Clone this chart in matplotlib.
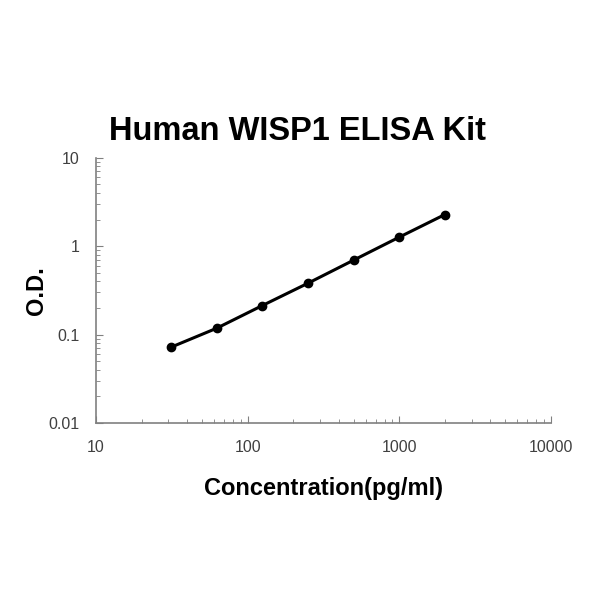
import matplotlib
matplotlib.use("Agg")
from matplotlib import pyplot as plt
from matplotlib.ticker import LogLocator, FixedLocator, NullFormatter

plt.rcParams['font.family'] = ['Liberation Sans', 'DejaVu Sans']

concentration = [31.25, 62.5, 125, 250, 500, 1000, 2000]
od = [0.072, 0.118, 0.213, 0.381, 0.695, 1.265, 2.28]

x_ticks = [10, 100, 1000, 10000]
x_labels = ["10", "100", "1000", "10000"]
y_ticks = [0.01, 0.1, 1, 10]
y_labels = ["0.01", "0.1", "1", "10"]

fig = plt.figure(figsize=(6, 6), dpi=100)
ax = fig.add_axes([0.16, 0.295, 0.758, 0.442])

ax.plot(concentration, od, color="black", linewidth=2.2, marker="o", markersize=6)

ax.set_xscale("log")
ax.set_yscale("log")
ax.set_xlim(10, 10000)
ax.set_ylim(0.01, 10)

ax.xaxis.set_major_locator(FixedLocator(x_ticks))
ax.yaxis.set_major_locator(FixedLocator(y_ticks))
ax.set_xticklabels(x_labels)
ax.set_yticklabels(y_labels)
ax.xaxis.set_minor_locator(LogLocator(base=10, subs=range(2, 10)))
ax.yaxis.set_minor_locator(LogLocator(base=10, subs=range(2, 10)))
ax.xaxis.set_minor_formatter(NullFormatter())
ax.yaxis.set_minor_formatter(NullFormatter())

for side in ["top", "right"]:
    ax.spines[side].set_visible(False)
for side in ["left", "bottom"]:
    ax.spines[side].set_color("#808080")
    ax.spines[side].set_linewidth(1.2)

ax.tick_params(which="both", direction="in", color="#808080", labelcolor="#404040",
               labelsize=11.5)
ax.tick_params(which="major", length=5, pad=12)
ax.tick_params(which="minor", length=3)

fig.text(0.496, 0.781, "Human WISP1 ELISA Kit", ha="center", va="center",
         fontsize=23.5, fontweight="bold")
ax.set_xlabel("Concentration(pg/ml)", fontsize=17, fontweight="bold", labelpad=16)
ax.set_ylabel("O.D.", fontsize=17, fontweight="bold", labelpad=0)

fig.savefig("out.png", dpi=100)
